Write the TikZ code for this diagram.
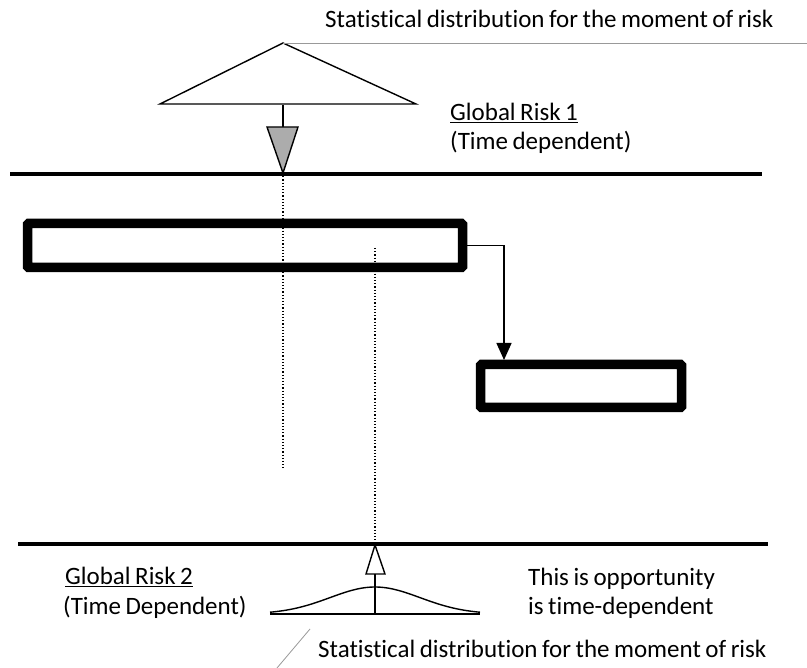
\documentclass[tikz,border=0pt]{standalone}
\usepackage{fontspec}
\setmainfont{Carlito}[Ligatures={NoCommon},WordSpace={0.8}]
\usetikzlibrary{arrows.meta,calc}
\begin{document}
\begin{tikzpicture}[x=1pt,y=-1pt,
  label/.style={anchor=base west,inner sep=0pt,font=\fontsize{25}{29}\selectfont},
  timeline/.style={line width=3.5pt},
  taskbox/.style={draw,line width=9.5pt,rounded corners=1pt,inner sep=0pt},
  leader/.style={draw=gray!80,line width=0.8pt},
  guide/.style={dotted,line width=1.2pt},
  thin/.style={line width=1.4pt}]
\useasboundingbox (0,0) rectangle (807,668);

% time axes
\coordinate (axA) at (10,174);
\coordinate (axAend) at (762,174);
\coordinate (axB) at (18,544);
\coordinate (axBend) at (768,544);
\draw[timeline] (axA) -- (axAend);
\draw[timeline] (axB) -- (axBend);

% upper distribution and its falling marker
\coordinate (apex) at (283,43);
\coordinate (baseL) at (160,104);
\coordinate (baseR) at (416,104);
\draw[thin,line join=miter] (apex) -- (baseL) -- (baseR) -- cycle;
\coordinate (leadEnd) at (807,43);
\draw[leader] (apex) -- (leadEnd);
\coordinate (stemTop) at (283,105);
\coordinate (stemEnd) at (283,127);
\coordinate (headL) at (267,127);
\coordinate (headR) at (298,127);
\coordinate (headTip) at (283,173);
\draw[thin] (stemTop) -- (stemEnd);
\draw[thin,fill=gray!65,line join=miter] (headL) -- (headR) -- (headTip) -- cycle;

% activity bars
\node[taskbox,minimum width=435pt,minimum height=44pt] (big) at (245,245.5) {};
\node[taskbox,minimum width=201pt,minimum height=43pt] (small) at (581,386) {};

% dotted guides
\coordinate (guideAend) at (283,468);
\draw[guide] (headTip) -- (guideAend);
\coordinate (guideBtop) at (375,248);
\coordinate (guideBend) at (375,544);
\draw[guide] (guideBtop) -- (guideBend);

% dependency link
\coordinate (drop) at (504,360);
\draw[thin,-{Triangle[length=17pt,width=15pt]}] (big.east) -| (drop);

% lower distribution and its rising marker
\coordinate (bellL) at (270,614);
\coordinate (bellR) at (480,614);
\draw[thin] (bellL) -- (bellR);
\draw[thin] plot[domain=270:480,samples=80,smooth] (\x,{614-27*exp(-((\x-375)^2)/4050)});
\coordinate (riseBase) at (375,614);
\coordinate (riseStem) at (375,574);
\coordinate (riseL) at (366,574);
\coordinate (riseR) at (385,574);
\coordinate (riseTip) at (375,545);
\draw[thin] (riseBase) -- (riseStem);
\draw[thin,fill=white,line join=miter] (riseL) -- (riseR) -- (riseTip) -- cycle;
\coordinate (lead2a) at (310,629);
\coordinate (lead2b) at (277,668);
\draw[leader] (lead2a) -- (lead2b);

% labels
\node[label] (t1) at (325,28) {Statistical distribution for the moment of risk};
\node[label] (g1) at (450,121) {\underline{Global Risk 1}};
\node[label] (g1b) at (450,150) {(Time dependent)};
\node[label] (g2) at (65,585) {\underline{Global Risk 2}};
\node[label] (g2b) at (63,614) {(Time Dependent)};
\node[label] (op1) at (528,586) {This is opportunity};
\node[label] (op2) at (528,615) {is time-dependent};
\node[label] (t2) at (318,657) {Statistical distribution for the moment of risk};
\end{tikzpicture}
\end{document}
